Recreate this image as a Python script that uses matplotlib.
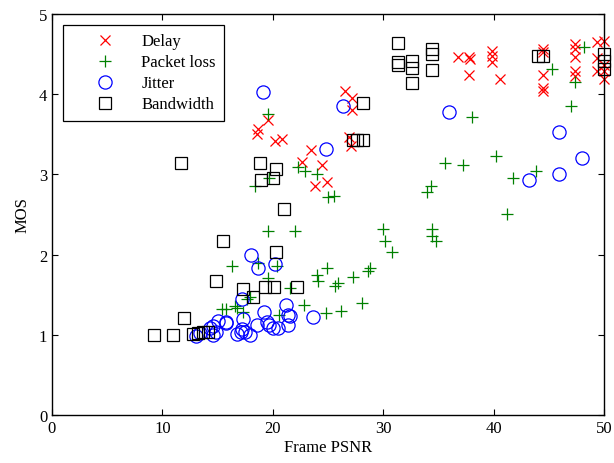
import matplotlib
matplotlib.use("Agg")
import matplotlib.pyplot as plt

plt.rcParams['font.family'] = ['Liberation Serif', 'DejaVu Serif']

delay_x = [18.7, 18.6, 19.6, 20.2, 20.8, 23.5, 22.6, 24.5, 23.8, 24.9,
           26.5, 27.2, 27.2, 26.9, 27.1,
           36.8, 37.8, 37.9, 37.8, 39.9, 39.9, 39.9, 40.6,
           44.5, 44.5, 44.5, 44.5, 44.5,
           47.4, 47.4, 47.4, 47.4, 47.4,
           49.4, 50.0, 49.4, 49.4, 50.0, 50.0, 50.0]
delay_y = [3.56, 3.50, 3.68, 3.42, 3.44, 3.31, 3.15, 3.12, 2.86, 2.90,
           4.04, 3.95, 3.80, 3.47, 3.35,
           4.46, 4.46, 4.44, 4.24, 4.54, 4.48, 4.40, 4.19,
           4.56, 4.52, 4.24, 4.08, 4.04,
           4.63, 4.56, 4.46, 4.29, 4.23,
           4.65, 4.66, 4.45, 4.29, 4.29, 4.37, 4.19]

loss_x = [19.6, 18.4, 19.7, 22.3, 22.9, 24.0, 25.0, 25.5,
          35.6, 37.2, 40.2, 41.8, 43.8, 41.2, 34.0, 34.3,
          30.0, 30.2, 30.8, 34.4, 34.4, 34.8,
          24.9, 28.8, 28.6, 27.3, 25.6, 25.9, 28.1, 24.8, 26.2,
          48.2, 45.3, 47.4, 47.0, 38.0,
          19.6, 22.0, 16.3, 18.7, 20.4, 19.6, 21.6, 17.9, 17.7,
          15.4, 15.8, 16.6, 16.8, 17.3, 22.8, 20.6, 24.0, 24.1]
loss_y = [3.75, 2.86, 2.96, 3.09, 3.04, 3.00, 2.72, 2.73,
          3.14, 3.12, 3.23, 2.96, 3.04, 2.51, 2.78, 2.86,
          2.32, 2.17, 2.03, 2.32, 2.23, 2.17,
          1.83, 1.83, 1.80, 1.72, 1.61, 1.65, 1.40, 1.27, 1.30,
          4.59, 4.31, 4.15, 3.85, 3.71,
          2.29, 2.29, 1.86, 1.90, 1.86, 1.71, 1.58, 1.47, 1.45,
          1.32, 1.32, 1.36, 1.33, 1.28, 1.37, 1.25, 1.75, 1.67]

jitter_x = [19.1, 24.8, 26.4, 36.0, 45.9, 48.0, 45.9, 43.2,
            18.0, 18.7, 20.2, 17.2, 21.2, 19.2, 21.6, 21.4, 23.6, 17.3,
            15.8, 15.8, 15.0, 18.6, 19.5, 19.7, 20.0, 20.5, 21.4,
            14.6, 14.3, 14.9, 14.6, 16.8, 17.1, 17.5, 17.9, 17.2,
            13.0, 13.4]
jitter_y = [4.03, 3.32, 3.85, 3.78, 3.53, 3.21, 3.00, 2.93,
            2.00, 1.83, 1.88, 1.45, 1.37, 1.28, 1.23, 1.25, 1.22, 1.20,
            1.16, 1.15, 1.17, 1.12, 1.16, 1.12, 1.08, 1.09, 1.12,
            1.11, 1.08, 1.04, 1.00, 1.01, 1.03, 1.03, 1.00, 1.07,
            0.99, 1.02]

bw_x = [11.7, 18.8, 20.3, 20.0, 18.9, 21.0,
        31.3, 31.3, 31.3, 32.6, 32.6, 32.6, 34.4, 34.4, 34.4,
        28.2, 28.2, 27.3, 27.6, 44.0, 44.5, 50.0, 50.0, 50.0,
        15.5, 20.3, 14.9, 17.3, 18.2, 19.3, 20.1, 22.2,
        12.0, 9.2, 11.0, 12.8, 13.2, 13.7, 14.1]
bw_y = [3.14, 3.14, 3.07, 2.96, 2.93, 2.57,
        4.64, 4.40, 4.36, 4.41, 4.33, 4.14, 4.56, 4.50, 4.30,
        3.89, 3.43, 3.43, 3.43, 4.48, 4.48, 4.50, 4.41, 4.31,
        2.17, 2.03, 1.67, 1.57, 1.47, 1.60, 1.60, 1.60,
        1.21, 1.00, 1.00, 1.01, 1.02, 1.03, 1.03]

fig = plt.figure(figsize=(6.14, 4.64), dpi=100)
ax = fig.add_axes([52/614, 48/464, 552/614, 401/464])

ax.plot(delay_x, delay_y, 'x', color='#ff0000', ms=7, mew=0.9, label='Delay', clip_on=False)
ax.plot(loss_x, loss_y, '+', color='#008000', ms=9, mew=0.9, label='Packet loss', clip_on=False)
ax.plot(jitter_x, jitter_y, 'o', color='#0000ff', mfc='none', ms=9.5, mew=0.9, label='Jitter', clip_on=False)
ax.plot(bw_x, bw_y, 's', color='black', mfc='none', ms=8.5, mew=0.9, label='Bandwidth', clip_on=False)

ax.set_xlim(0, 50)
ax.set_ylim(0, 5)
ax.set_xticks([0, 10, 20, 30, 40, 50])
ax.set_yticks([0, 1, 2, 3, 4, 5])
ax.tick_params(direction='in', top=True, right=True, labelsize=12, length=4, width=0.8)
for s in ax.spines.values():
    s.set_linewidth(1.0)
ax.set_xlabel('Frame PSNR', fontsize=12, labelpad=2)
ax.set_ylabel('MOS', fontsize=12, labelpad=6)

leg = ax.legend(loc='upper left', bbox_to_anchor=(11/552, 390/401), borderaxespad=0,
                fontsize=12, fancybox=False, edgecolor='black', framealpha=1,
                borderpad=0.5, handletextpad=0.2, labelspacing=0.3, handlelength=4.0)
leg.get_frame().set_linewidth(0.9)

fig.savefig('out.png', dpi=100)
